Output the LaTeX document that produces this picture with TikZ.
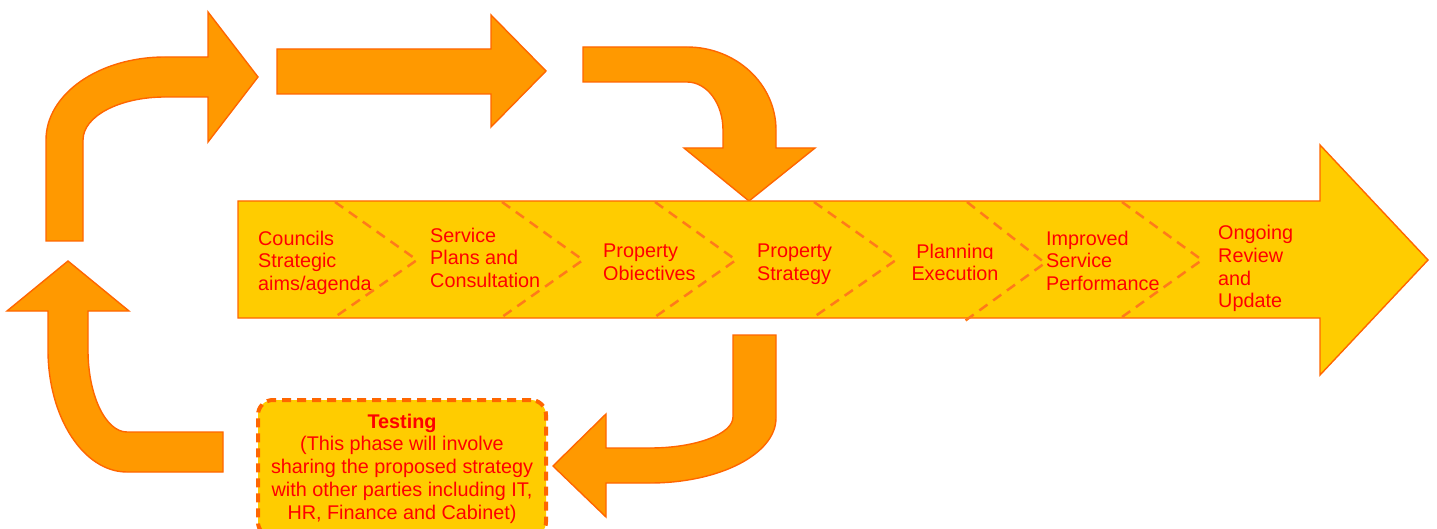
\documentclass[tikz,border=0pt]{standalone}
\usepackage{fontspec}
\setmainfont{Liberation Sans}
\newcommand\lblfont{\fontsize{19.8}{22.7}\selectfont}
\definecolor{arrfill}{HTML}{FF9900}
\definecolor{arredge}{HTML}{FF6600}
\definecolor{mainfill}{HTML}{FFCC00}
\definecolor{dashcol}{HTML}{FF7A1A}
\definecolor{txtred}{HTML}{FF0000}
\begin{document}
\begin{tikzpicture}[x=1pt,y=-1pt,
  bent/.style={fill=arrfill,draw=arredge,line width=1.4pt,line join=miter},
  mainarrow/.style={fill=mainfill,draw=arredge,line width=1.4pt},
  chevron/.style={draw=dashcol,line width=2.5pt,dash pattern=on 10pt off 7pt},
  lbl/.style={font=\lblfont,text=txtred,inner sep=0pt,align=left,
    anchor=north west,yshift=14.4pt,execute at begin node=\strut},
  clbl/.style={lbl,align=center,anchor=north},
  testbox/.style={fill=mainfill,draw=arredge,line width=4pt,
    dash pattern=on 9pt off 6pt,rounded corners=15pt,
    font=\lblfont,text=txtred,align=center,inner sep=0pt}]
\useasboundingbox (0,0) rectangle (1437,529);
\fill[white] (0,0) rectangle (1437,529);

% loop arrows around the process
\filldraw[bent] (46,241) -- (46,140) .. controls (46,94) and (99,57) .. (165,57)
  -- (208,57) -- (208,12) -- (258,77) -- (208,142) -- (208,97) -- (165,97)
  .. controls (120,97) and (83,116) .. (83,140) -- (83,241) -- cycle;
\filldraw[bent] (277,49) -- (491,49) -- (491,15) -- (546,71) -- (491,127)
  -- (491,94) -- (277,94) -- cycle;
\filldraw[bent] (583,47) -- (687,47) .. controls (736,47) and (776,84) .. (776,130)
  -- (776,148) -- (815,148) -- (749,201) -- (684,148) -- (723,148) -- (723,130)
  .. controls (723,103.5) and (707,82) .. (687,82) -- (583,82) -- cycle;
\filldraw[bent] (733,335) -- (776,335) -- (776,418) .. controls (776,454) and (719.5,483) .. (650,483)
  -- (606,483) -- (606,517) -- (553,466) -- (606,414) -- (606,448) -- (650,448)
  .. controls (696,448) and (733,434) .. (733,417) -- cycle;
\filldraw[bent] (223,432) -- (223,472) -- (127,472) .. controls (83.4,472) and (48,417) .. (48,350)
  -- (48,311) -- (7,311) -- (68,261) -- (129,311) -- (88,311) -- (88,350)
  .. controls (88,395) and (105.5,432) .. (127,432) -- cycle;

% main process arrow
\filldraw[mainarrow] (238,201) -- (1320,201) -- (1320,145) -- (1428,260)
  -- (1320,375) -- (1320,318) -- (238,318) -- cycle;

% stage separators
\draw[chevron] (335,202) -- (417,260) -- (335,317);
\draw[chevron] (502,202) -- (583,260) -- (502,317);
\draw[chevron] (655,202) -- (736,260) -- (655,317);
\draw[chevron] (814,202) -- (896,260) -- (814,317);
\draw[chevron] (967,202) -- (1045,263) -- (962,323);
\draw[chevron] (1122,202) -- (1202,260) -- (1122,317);

% stage labels
\node[lbl] (councils) at (258,245) {Councils\\Strategic\\aims/agenda};
\node[lbl] (service) at (430,242) {Service\\Plans and\\Consultation};
\begin{scope}
  \clip (590,230) rectangle (725,279.5);
  \node[lbl] (objectives) at (603,258) {Property\\Objectives};
\end{scope}
\node[lbl] (strategy) at (757,258.5) {Property\\Strategy};
\begin{scope}
  \clip (890,230) rectangle (1020,258.5) (890,264) rectangle (1020,300);
  \node[clbl] (execution) at (955,258) {Planning\\Execution};
\end{scope}
\node[lbl] (performance) at (1046,245) {Improved\\Service\\Performance};
\node[lbl] (review) at (1218,239.5) {Ongoing\\Review\\and\\Update};

% testing phase
\node[testbox,minimum width=288pt,minimum height=137pt] (testing) at (402,468.5)
  {\textbf{Testing}\\(This phase will involve\\sharing the proposed strategy\\with other parties including IT,\\HR, Finance and Cabinet)};
\end{tikzpicture}
\end{document}
